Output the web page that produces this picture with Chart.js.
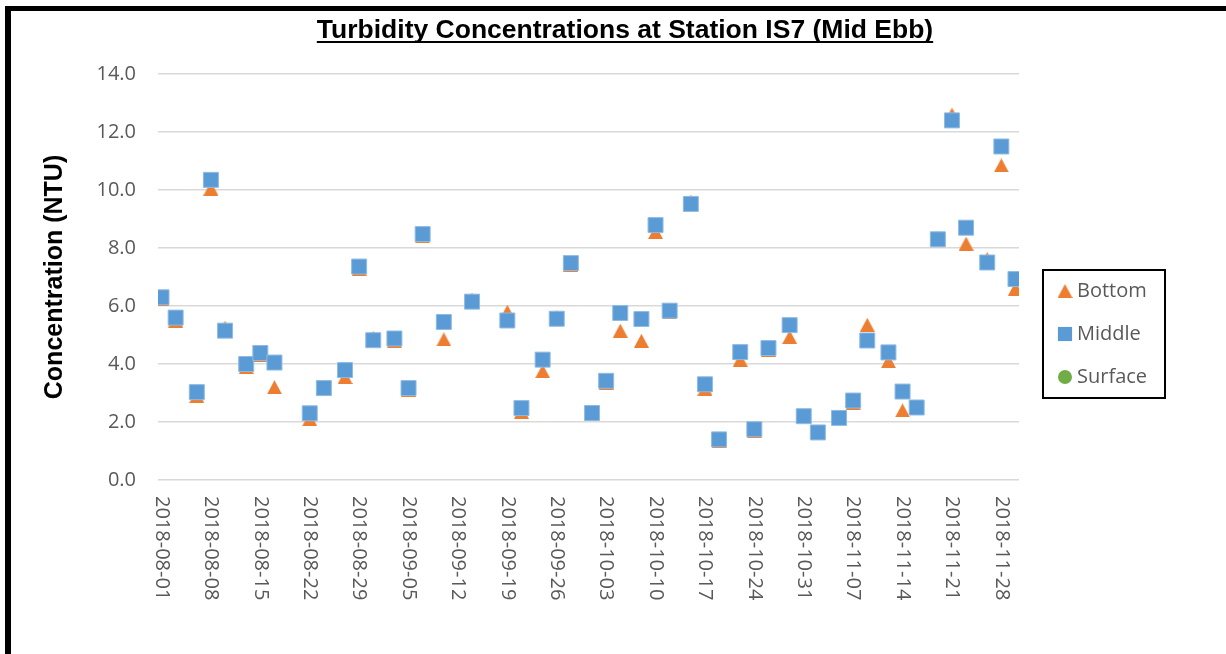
<!DOCTYPE html>
<html lang="en">

<head>
    <meta charset="UTF-8" />
    <title>Turbidity Concentrations at Station IS7 (Mid Ebb)</title>
    <script src="https://cdn.jsdelivr.net/npm/chart.js"></script>
    <style>
        html, body {
            margin: 0;
            padding: 0;
            background: #fff;
        }

        #wrap {
            position: relative;
            width: 1226px;
            height: 654px;
        }
    </style>
</head>

<body>
    <div id="wrap">
        <canvas id="turbChart" width="1226" height="654"></canvas>
    </div>

    <script>
        // Sampling dates (category axis is days since 2018-08-01)
        const sampleDates = [
            '2018-08-01', '2018-08-03', '2018-08-06', '2018-08-08', '2018-08-10', '2018-08-13', '2018-08-15', '2018-08-17',
            '2018-08-22', '2018-08-24', '2018-08-27', '2018-08-29', '2018-08-31', '2018-09-03', '2018-09-05', '2018-09-07',
            '2018-09-10', '2018-09-14', '2018-09-19', '2018-09-21', '2018-09-24', '2018-09-26', '2018-09-28', '2018-10-01',
            '2018-10-03', '2018-10-05', '2018-10-08', '2018-10-10', '2018-10-12', '2018-10-15', '2018-10-17', '2018-10-19',
            '2018-10-22', '2018-10-24', '2018-10-26', '2018-10-29', '2018-10-31', '2018-11-02', '2018-11-05', '2018-11-07',
            '2018-11-09', '2018-11-12', '2018-11-14', '2018-11-16', '2018-11-19', '2018-11-21', '2018-11-23', '2018-11-26',
            '2018-11-28', '2018-11-30'
        ];

        // Turbidity (NTU)
        const bottomValues = [
            6.25, 5.5, 2.9, 10.05, 5.25, 3.9, 4.3, 3.2,
            2.1, 3.22, 3.55, 7.28, 4.9, 4.8, 3.12, 8.4,
            4.85, 6.22, 5.8, 2.35, 3.75, 5.62, 7.42, 2.35,
            3.36, 5.15, 4.8, 8.55, 5.78, 9.6, 3.15, 1.34,
            4.15, 1.69, 4.49, 4.93, 2.2, 1.64, 2.14, 2.66,
            5.35, 4.1, 2.4, 2.5, 8.35, 12.6, 8.15, 7.62,
            10.85, 6.6
        ];
        const middleValues = [
            6.3, 5.6, 3.03, 10.35, 5.15, 4.0, 4.38, 4.05,
            2.3, 3.17, 3.79, 7.36, 4.82, 4.88, 3.17, 8.48,
            5.45, 6.15, 5.5, 2.48, 4.15, 5.56, 7.48, 2.31,
            3.42, 5.76, 5.55, 8.79, 5.84, 9.52, 3.3, 1.4,
            4.41, 1.75, 4.55, 5.34, 2.2, 1.64, 2.14, 2.74,
            4.81, 4.4, 3.05, 2.5, 8.3, 12.4, 8.7, 7.5,
            11.5, 6.93
        ];
        const surfaceValues = []; // no surface samples at mid ebb

        // Weekly tick labels on the x axis
        const xTickLabels = [
            '2018-08-01', '2018-08-08', '2018-08-15', '2018-08-22', '2018-08-29', '2018-09-05',
            '2018-09-12', '2018-09-19', '2018-09-26', '2018-10-03', '2018-10-10', '2018-10-17',
            '2018-10-24', '2018-10-31', '2018-11-07', '2018-11-14', '2018-11-21', '2018-11-28'
        ];

        const startDate = '2018-08-01';
        const endDate = '2018-11-30';

        function dayIndex(s) {
            const p = s.split('-').map(Number);
            const q = startDate.split('-').map(Number);
            return Math.round((Date.UTC(p[0], p[1] - 1, p[2]) - Date.UTC(q[0], q[1] - 1, q[2])) / 86400000);
        }

        function toPoints(values) {
            return values.map((v, i) => ({ x: dayIndex(sampleDates[i]), y: v }));
        }

        // Excel style triangle marker: box centred on the point
        function makeTriangle(w, h, color) {
            const c = document.createElement('canvas');
            c.width = w;
            c.height = h;
            const g = c.getContext('2d');
            g.fillStyle = color;
            g.beginPath();
            g.moveTo(w / 2, 0);
            g.lineTo(w, h);
            g.lineTo(0, h);
            g.closePath();
            g.fill();
            return c;
        }

        const orange = '#ed7d31';
        const blue = '#5b9bd5';
        const green = '#70ad47';
        const triMarker = makeTriangle(15, 14, orange);

        const tickFont = '20px "Open Sans", sans-serif';
        const tickColor = '#595959';

        // Frame, title, rotated date labels and legend box
        const decorPlugin = {
            id: 'decor',
            beforeDraw(chart) {
                const ctx = chart.ctx;
                ctx.save();
                ctx.fillStyle = '#fff';
                ctx.fillRect(0, 0, chart.width, chart.height);
                ctx.fillStyle = '#000';
                ctx.fillRect(5, 6, chart.width - 5, 5);
                ctx.fillRect(5, 6, 6, chart.height - 6);
                ctx.restore();
            },
            afterDraw(chart) {
                const ctx = chart.ctx;
                const xs = chart.scales.x;
                ctx.save();

                // title with underline
                const title = 'Turbidity Concentrations at Station IS7 (Mid Ebb)';
                ctx.font = 'bold 26.5px "Liberation Sans", Arial, sans-serif';
                ctx.fillStyle = '#000';
                ctx.textAlign = 'center';
                ctx.textBaseline = 'alphabetic';
                const cx = 625;
                ctx.fillText(title, cx, 38);
                const w = ctx.measureText(title).width;
                ctx.fillRect(cx - w / 2, 41, w, 2);

                // date labels, reading top to bottom
                ctx.font = tickFont;
                ctx.fillStyle = tickColor;
                ctx.textAlign = 'left';
                ctx.textBaseline = 'middle';
                xTickLabels.forEach(lbl => {
                    const px = xs.getPixelForValue(dayIndex(lbl));
                    ctx.save();
                    ctx.translate(px, 496);
                    ctx.rotate(Math.PI / 2);
                    ctx.fillText(lbl, 0, 0);
                    ctx.restore();
                });

                // legend
                ctx.lineWidth = 2;
                ctx.strokeStyle = '#000';
                ctx.strokeRect(1043, 270, 122, 128);
                const rows = [291, 334, 377];
                const sets = chart.data.datasets;
                sets.forEach((ds, i) => {
                    const y = rows[i];
                    ctx.fillStyle = ds.backgroundColor;
                    ctx.strokeStyle = ds.backgroundColor;
                    Chart.helpers.drawPoint(ctx, {
                        pointStyle: ds.pointStyle,
                        radius: i === 1 ? 10 : 7,
                        borderWidth: 0
                    }, 1065, y);
                    ctx.fillStyle = tickColor;
                    ctx.font = tickFont;
                    ctx.textAlign = 'left';
                    ctx.textBaseline = 'middle';
                    ctx.fillText(ds.label, 1077, y);
                });
                ctx.restore();
            }
        };

        new Chart(document.getElementById('turbChart'), {
            type: 'scatter',
            data: {
                datasets: [
                    {
                        label: 'Bottom',
                        data: toPoints(bottomValues),
                        pointStyle: triMarker,
                        pointRadius: 8,
                        backgroundColor: orange,
                        borderColor: orange,
                        order: 2
                    },
                    {
                        label: 'Middle',
                        data: toPoints(middleValues),
                        pointStyle: 'rect',
                        pointRadius: 10.6,
                        backgroundColor: blue,
                        borderColor: '#8fbbe3',
                        borderWidth: 1,
                        order: 1
                    },
                    {
                        label: 'Surface',
                        data: toPoints(surfaceValues),
                        pointStyle: 'circle',
                        pointRadius: 7,
                        backgroundColor: green,
                        borderColor: green,
                        order: 0
                    }
                ]
            },
            options: {
                responsive: false,
                animation: false,
                layout: { padding: { left: 40, right: 207, top: 74, bottom: 0 } },
                plugins: {
                    legend: { display: false },
                    title: { display: false },
                    tooltip: { enabled: false }
                },
                scales: {
                    x: {
                        type: 'linear',
                        min: dayIndex(startDate) - 0.5,
                        max: dayIndex(endDate) + 0.5,
                        grid: { display: false },
                        border: { display: false },
                        ticks: { display: false },
                        afterFit(scale) { scale.height = 174; }
                    },
                    y: {
                        min: 0,
                        max: 14,
                        ticks: {
                            stepSize: 2,
                            padding: 22,
                            color: tickColor,
                            font: { family: '"Open Sans", sans-serif', size: 20 },
                            callback: v => v.toFixed(1)
                        },
                        grid: { color: '#d9d9d9', lineWidth: 1.5, drawTicks: false },
                        border: { display: false },
                        title: {
                            display: true,
                            text: 'Concentration (NTU)',
                            color: '#000',
                            font: { family: '"Liberation Sans", Arial, sans-serif', size: 25, weight: 'bold' },
                            padding: 0
                        },
                        afterFit(scale) { scale.width = 118; }
                    }
                }
            },
            plugins: [decorPlugin]
        });
    </script>
</body>

</html>
